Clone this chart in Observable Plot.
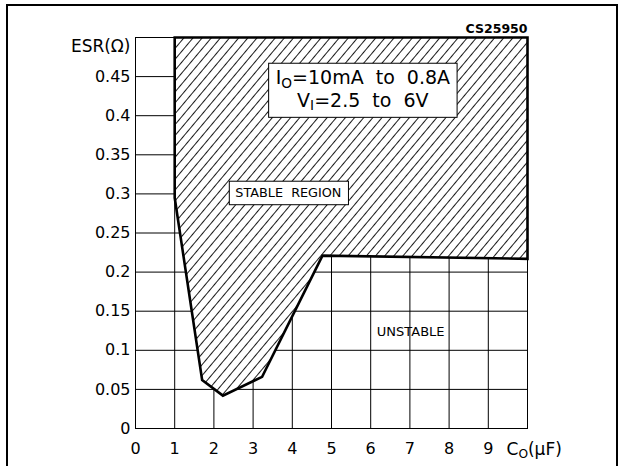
<!DOCTYPE html>
<html><head><meta charset="utf-8">
<script src="https://cdn.jsdelivr.net/npm/d3@7"></script>
<script src="https://cdn.jsdelivr.net/npm/@observablehq/plot@0.6"></script>
<style>
html,body{margin:0;padding:0;background:#fff;overflow:hidden}
#chart{position:relative;width:622px;height:466px}
svg text{white-space:pre}
</style></head><body><div id="chart"></div>
<script>
// ---- data ----
const xTicks = [0, 1, 2, 3, 4, 5, 6, 7, 8, 9];
const yTicks = [0, 0.05, 0.1, 0.15, 0.2, 0.25, 0.3, 0.35, 0.4, 0.45];
const xGrid = [1, 2, 3, 4, 5, 6, 7, 8, 9];
const yGrid = [0.05, 0.1, 0.15, 0.2, 0.25, 0.3, 0.35, 0.4, 0.45];
const xDomain = [0, 10];
const yDomain = [0, 0.5];
// stable-region boundary (Co in µF, ESR in ohm)
const stableCo  = [1, 1, 1.7, 2.23, 3.23, 4.77, 10, 10];
const stableESR = [0.5, 0.295, 0.062, 0.042, 0.066, 0.221, 0.217, 0.5];
const xLabel = "C_O(μF)";
const yLabel = "ESR(Ω)";
const codeLabel = "CS25950";
const condLines = ["I_O=10mA  to  0.8A", "V_I=2.5  to  6V"];
const condCo = [5.8, 5.8];
const condESR = [0.448, 0.4195];
const stableText = ["STABLE  REGION"];
const stableTextCo = [3.9];
const stableTextESR = [0.301];
const unstableText = ["UNSTABLE"];
const unstableTextCo = [7.02];
const unstableTextESR = [0.1233];

const FONT = "DejaVu Sans";
const idx = stableCo.map((_, i) => i);

const svg = Plot.plot({
  width: 622, height: 466,
  marginLeft: 135, marginRight: 95, marginTop: 37, marginBottom: 38,
  x: {domain: xDomain, axis: null},
  y: {domain: yDomain, axis: null},
  style: {fontFamily: FONT, fontSize: "15px", color: "#000", background: "#fff"},
  marks: [
    Plot.ruleX(xGrid, {y1: yDomain[0], y2: yDomain[1], stroke: "#000", strokeWidth: 1}),
    Plot.ruleY(yGrid, {x1: xDomain[0], x2: xDomain[1], stroke: "#000", strokeWidth: 1}),
    Plot.frame({stroke: "#000", strokeWidth: 1}),
    Plot.line(idx, {x: i => stableCo[i], y: i => stableESR[i], curve: "linear-closed", fill: "#fff", stroke: "none"}),
    Plot.line(idx, {x: i => stableCo[i], y: i => stableESR[i], curve: "linear-closed", fill: "url(#hatch)",
      stroke: "#000", strokeWidth: 2.6, strokeLinejoin: "miter", strokeMiterlimit: 4}),
    Plot.axisX(xTicks, {tickSize: 0, tickPadding: 14, fontSize: 16, label: null}),
    Plot.axisY(yTicks, {tickSize: 0, tickPadding: 5, fontSize: 16, label: null, tickFormat: d => String(d)}),
    Plot.text([yLabel], {x: xDomain[0], y: yDomain[1], textAnchor: "end", dx: -5, dy: 9, fontSize: 17}),
    Plot.text([xLabel], {x: xDomain[1], y: yDomain[0], textAnchor: "start", lineAnchor: "top", dx: -21, dy: 14, fontSize: 17}),
    Plot.text([codeLabel], {x: xDomain[1], y: yDomain[1], textAnchor: "end", dy: -9, fontSize: 12.5, fontWeight: "bold"}),
    Plot.text(condLines, {x: (d, i) => condCo[i], y: (d, i) => condESR[i], fontSize: 19}),
    Plot.text(stableText, {x: (d, i) => stableTextCo[i], y: (d, i) => stableTextESR[i], fontSize: 12.8}),
    Plot.text(unstableText, {x: (d, i) => unstableTextCo[i], y: (d, i) => unstableTextESR[i], fontSize: 13})
  ]
});

document.getElementById("chart").appendChild(svg);
const s = d3.select(svg);

// tag annotation texts by content (before subscript rewriting)
s.selectAll("text").each(function () {
  const t = this.textContent;
  if (condLines.includes(t)) this.classList.add("cond-note");
  if (stableText.includes(t)) this.classList.add("stable-note");
});

// hatch pattern
const defs = s.insert("defs", ":first-child");
const pat = defs.append("pattern").attr("id", "hatch").attr("patternUnits", "userSpaceOnUse")
  .attr("width", 7).attr("height", 10).attr("patternTransform", "rotate(40)");
pat.append("rect").attr("width", 7).attr("height", 10).attr("fill", "#fff");
pat.append("line").attr("x1", 3.5).attr("x2", 3.5).attr("y1", -1).attr("y2", 11)
  .attr("stroke", "#000").attr("stroke-width", 0.9);

// subscripts: "_X" -> subscript X
s.selectAll("text").each(function () {
  const el = this;
  const targets = el.querySelectorAll("tspan").length ? Array.from(el.querySelectorAll("tspan")) : [el];
  targets.forEach(t => {
    const str = t.textContent;
    if (!str.includes("_")) return;
    const fs = parseFloat(getComputedStyle(t).fontSize) || 16;
    const parts = str.split(/_(\w)/);
    t.textContent = "";
    parts.forEach((p, k) => {
      const ts = document.createElementNS("http://www.w3.org/2000/svg", "tspan");
      ts.textContent = p;
      if (k % 2 === 1) {
        ts.setAttribute("font-size", (fs * 0.72).toFixed(1));
        ts.setAttribute("dy", (fs * 0.2).toFixed(1));
      } else if (k > 0) {
        ts.setAttribute("dy", (-fs * 0.2).toFixed(1));
      }
      t.appendChild(ts);
    });
  });
});

// boxes around annotation labels (in root SVG coordinates)
function boxAround(sel, pad) {
  const nodes = s.selectAll(sel).nodes();
  if (!nodes.length) return;
  const rootInv = svg.getScreenCTM().inverse();
  let x0 = Infinity, y0 = Infinity, x1 = -Infinity, y1 = -Infinity;
  nodes.forEach(n => {
    const b = n.getBBox();
    const m = rootInv.multiply(n.getScreenCTM());
    [[b.x, b.y], [b.x + b.width, b.y + b.height]].forEach(([px, py]) => {
      const p = svg.createSVGPoint(); p.x = px; p.y = py;
      const q = p.matrixTransform(m);
      x0 = Math.min(x0, q.x); y0 = Math.min(y0, q.y);
      x1 = Math.max(x1, q.x); y1 = Math.max(y1, q.y);
    });
  });
  let g = nodes[0];
  while (g.parentNode !== svg) g = g.parentNode;
  const r = document.createElementNS("http://www.w3.org/2000/svg", "rect");
  svg.insertBefore(r, g);
  d3.select(r)
    .attr("x", x0 - pad[0]).attr("y", y0 - pad[1])
    .attr("width", x1 - x0 + pad[0] + pad[2]).attr("height", y1 - y0 + pad[1] + pad[3])
    .attr("fill", "#fff").attr("stroke", "#000").attr("stroke-width", 1);
}
boxAround("text.cond-note", [7, 3, 7, 4]);
boxAround("text.stable-note", [6, 4, 7, 4.5]);

// outer frame (open at bottom)
s.append("path").attr("d", "M7,470V5H617V470").attr("fill", "none").attr("stroke", "#000").attr("stroke-width", 2);
</script></body></html>
